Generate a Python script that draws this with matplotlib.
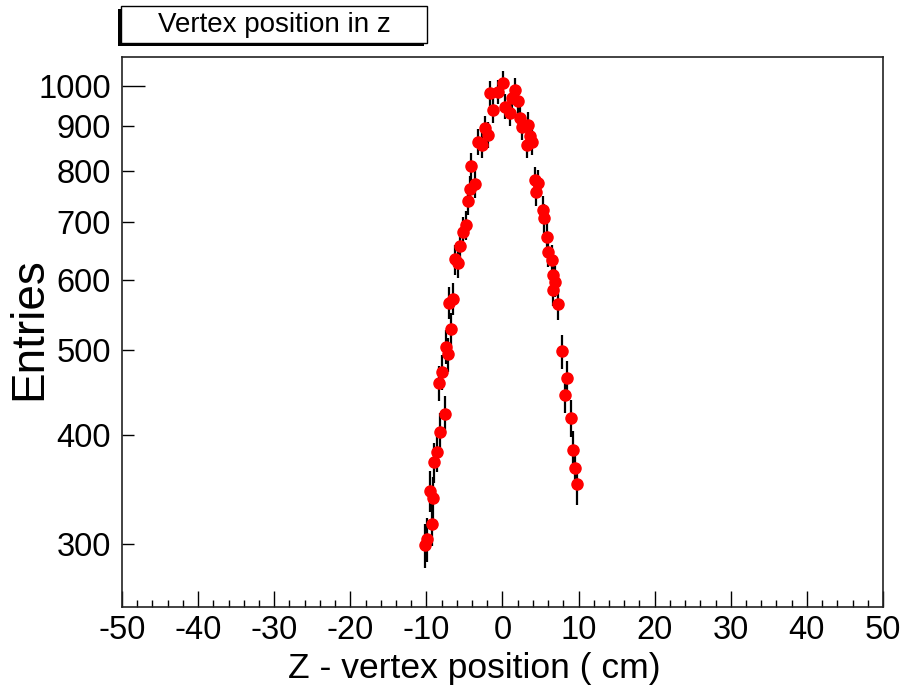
import numpy as np
import matplotlib
matplotlib.use("Agg")
import matplotlib.pyplot as plt
from matplotlib.patches import Rectangle
from matplotlib.ticker import FixedLocator, FixedFormatter

plt.rcParams['font.family'] = ['Liberation Sans', 'DejaVu Sans']

# Data (bin centre in cm, entries)
z_cm = [-10.18, -9.88, -9.53, -9.26, -9.09, -9.00, -8.57, -8.30, -8.21, -7.91,
        -7.56, -7.42, -7.12, -6.99, -6.81, -6.47, -6.24, -5.89, -5.58, -5.15,
        -4.84, -4.57, -4.27, -4.10, -3.61, -3.18, -2.73, -2.30, -1.87, -1.64,
        -1.21, -0.55, 0.11, 0.33, 0.99, 1.21, 1.64, 2.08, 2.30, 2.52,
        3.18, 3.39, 3.61, 3.84, 4.27, 4.40, 4.70, 5.36, 5.50, 5.81,
        6.02, 6.47, 6.60, 6.68, 6.90, 7.33, 7.78, 8.21, 8.44, 8.96,
        9.30, 9.53, 9.75]
entries = [299, 304, 345, 316, 339, 372, 382, 458, 403, 471,
           422, 504, 494, 566, 528, 572, 634, 628, 656, 682,
           694, 739, 762, 810, 773, 864, 856, 895, 879, 981,
           939, 985, 1007, 947, 931, 968, 990, 960, 919, 898,
           856, 903, 876, 864, 781, 757, 774, 722, 706, 673,
           647, 633, 608, 585, 598, 564, 498, 444, 464, 418,
           384, 366, 351]
entries_err = list(np.sqrt(entries))

x_ticks_major = [-50, -40, -30, -20, -10, 0, 10, 20, 30, 40, 50]
y_tick_values = [300, 400, 500, 600, 700, 800, 900, 1000]
y_tick_labels = ['300', '400', '500', '600', '700', '800', '900', '1000']

W, H = 903, 686
PX = 0.72  # points per pixel at dpi 100
fig = plt.figure(figsize=(W / 100, H / 100), dpi=100)
ax = fig.add_axes([122 / W, 1 - 607 / H, (883 - 122) / W, (607 - 57) / H])

ax.errorbar(z_cm, entries, yerr=entries_err, fmt='none', ecolor='black',
            elinewidth=1.6, capsize=0, zorder=2)
ax.plot(z_cm, entries, 'o', color='#ff0000', markersize=8,
        markeredgecolor='#ff0000', zorder=3)

ax.set_yscale('log')
ax.set_xlim(-50, 50)
ax.set_ylim(254.3, 1079)

# x ticks (inside, bottom only)
ax.xaxis.set_major_locator(FixedLocator(x_ticks_major))
ax.xaxis.set_minor_locator(FixedLocator(np.arange(-50, 51, 2)))
ax.set_xticklabels([str(v) for v in x_ticks_major])
ax.tick_params(axis='x', which='major', direction='in', length=16 * PX, width=1.0,
               labelsize=23.5, pad=6, top=False)
ax.tick_params(axis='x', which='minor', direction='in', length=7 * PX, width=1.0,
               top=False)

# y ticks
ax.yaxis.set_major_locator(FixedLocator([1000]))
ax.yaxis.set_minor_locator(FixedLocator(y_tick_values[:-1]))
ax.yaxis.set_major_formatter(FixedFormatter(['1000']))
ax.yaxis.set_minor_formatter(FixedFormatter(y_tick_labels[:-1]))
ax.tick_params(axis='y', which='major', direction='in', length=23 * PX, width=1.0,
               labelsize=23.5, pad=8, right=False)
ax.tick_params(axis='y', which='minor', direction='in', length=12 * PX, width=1.0,
               labelsize=23.5, pad=8, right=False)

for s in ax.spines.values():
    s.set_linewidth(1.2)
    s.set_color('#222222')

fig.text(29 / W, 1 - 329 / H, 'Entries', fontsize=33, rotation=90,
         ha='center', va='center')

fig.text(474 / W, 1 - 678 / H, 'Z - vertex position ( cm)', fontsize=25.5,
         ha='center', va='baseline')

# Title box with shadow
bx0, bx1, by0, by1 = 121, 427, 6, 43
fig.patches.append(Rectangle((bx0 / W - 3 / W, 1 - by1 / H - 3 / H),
                             (bx1 - bx0) / W, (by1 - by0) / H,
                             transform=fig.transFigure, facecolor='black',
                             edgecolor='black', lw=0, zorder=5))
fig.patches.append(Rectangle((bx0 / W, 1 - by1 / H),
                             (bx1 - bx0) / W, (by1 - by0) / H,
                             transform=fig.transFigure, facecolor='white',
                             edgecolor='black', lw=1.0, zorder=6))
fig.text((bx0 + bx1) / 2 / W, 1 - 25 / H, 'Vertex position in z', fontsize=20,
         ha='center', va='center', zorder=7)

fig.savefig('out.png', dpi=100)
